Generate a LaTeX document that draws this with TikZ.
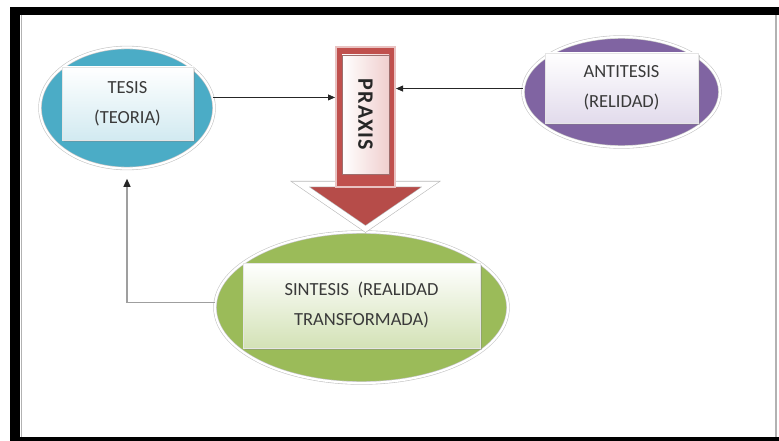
\documentclass[tikz,border=0pt]{standalone}
\usepackage{fontspec}
\setmainfont{Carlito}
\usetikzlibrary{shapes.geometric,arrows.meta,shadows}
\definecolor{tblue}{HTML}{4BACC6}
\definecolor{tpurple}{HTML}{8064A2}
\definecolor{tgreen}{HTML}{9BBB59}
\definecolor{tred}{HTML}{C0504D}
\definecolor{lblue}{HTML}{D2EAF1}
\definecolor{lpurple}{HTML}{E2DBEC}
\definecolor{lgreen}{HTML}{D3E2B6}
\definecolor{lred}{HTML}{F0CFCE}
\definecolor{txtgray}{HTML}{3A3A3A}
\begin{document}
\begin{tikzpicture}[x=1pt,y=-1pt,
  blob/.style={ellipse, inner sep=0pt, draw=gray!45, line width=0.6pt, double=white, double distance=2.2pt},
  label box/.style={rectangle, inner sep=0pt, draw=white!80!gray, line width=0.5pt,
    align=center, text=txtgray, font=\fontsize{18.5}{30}\selectfont,
    drop shadow={opacity=0.35, shadow xshift=1.5pt, shadow yshift=-2pt}},
  conn/.style={draw=black!85, line width=0.8pt, -{Triangle[length=7pt,width=6pt]}},
  back conn/.style={draw=gray!75, line width=1.4pt, -{Triangle[length=8pt,width=7pt,color=black!85]}},
]
\useasboundingbox (0,0) rectangle (779,441);
% frame
\fill[black] (10,7) rectangle (779,15);
\fill[black] (10,7) rectangle (20,441);
\fill[black] (10,437) rectangle (779,441);
\draw[gray!60, line width=1pt] (21,15) -- (21,437);
\draw[gray!60, line width=1.5pt] (776,15) -- (776,437);

% ellipses
\node[blob, fill=tblue, minimum width=174pt, minimum height=121pt] (tesis) at (127,108) {};
\node[blob, fill=tpurple, minimum width=197pt, minimum height=110pt] (anti) at (621.5,92) {};
\node[blob, fill=tgreen, minimum width=293pt, minimum height=151pt] (sint) at (361.5,307.5) {};

% label boxes
\node[label box, top color=white, bottom color=lblue, minimum width=131pt, minimum height=73pt] (tesisbox) at (127.5,103.5) {TESIS\\(TEORIA)};
\node[label box, top color=white, bottom color=lpurple, minimum width=153pt, minimum height=70pt] (antibox) at (621.5,88) {ANTITESIS\\(RELIDAD)};
\node[label box, top color=white, bottom color=lgreen, minimum width=237pt, minimum height=85pt] (sintbox) at (361.5,305.5) {SINTESIS\ \ (REALIDAD\\TRANSFORMADA)};

% PRAXIS arrow
\path[fill=tred!95!black, draw=gray!55, line width=0.6pt, double=white, double distance=5pt, line join=miter]
  (300,184) -- (431,184) -- (365.5,229) -- cycle;
\node[rectangle, inner sep=0pt, fill=tred, draw=tred!35, line width=2pt, minimum width=59pt, minimum height=140pt] (shaft) at (365.5,117) {};
\node[rectangle, inner sep=0pt, rotate=-90, left color=white, right color=lred, draw=tred!60!black!70, line width=0.4pt,
  minimum width=119pt, minimum height=47pt, text=black!85, font=\fontsize{22}{24}\selectfont\bfseries] (praxis) at (365.5,114.5) {P\kern1.2pt R\kern1.2pt A\kern1.2pt X\kern1.2pt I\kern1.2pt S};

% connectors
\draw[conn] (tesis.7) -- (tesis.7 -| shaft.west);
\draw[conn] (anti.178) -- (anti.178 -| shaft.east);
\draw[back conn] (sint.178) -| ([yshift=-10pt]tesis.south);
\end{tikzpicture}
\end{document}
